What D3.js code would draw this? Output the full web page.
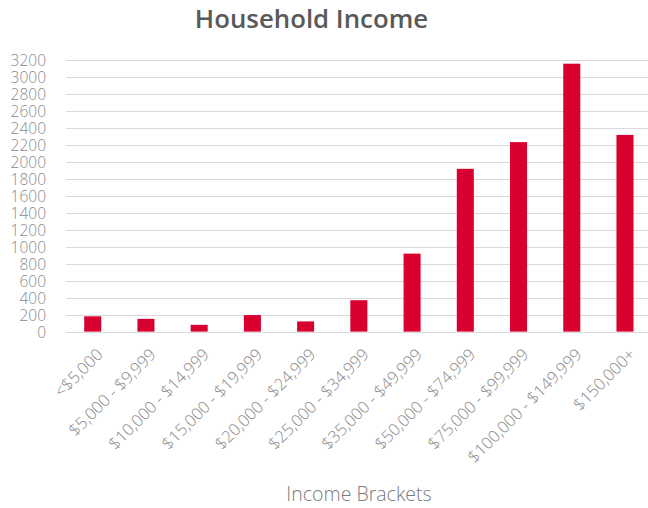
<!DOCTYPE html>
<html><head><meta charset="utf-8">
<script src="https://cdn.jsdelivr.net/npm/d3@7"></script>
<style>html,body{margin:0;padding:0;background:#fff}svg{display:block}</style>
</head><body>
<svg id="chart" width="648" height="508"></svg>
<script>
const categories = ["<$5,000","$5,000 - $9,999","$10,000 - $14,999","$15,000 - $19,999","$20,000 - $24,999","$25,000 - $34,999","$35,000 - $49,999","$50,000 - $74,999","$75,000 - $99,999","$100,000 - $149,999","$150,000+"];
const values = [180, 150, 80, 195, 120, 370, 920, 1920, 2235, 3160, 2320];
const yTicks = [0,200,400,600,800,1000,1200,1400,1600,1800,2000,2200,2400,2600,2800,3000,3200];
const title = "Household Income";
const xTitle = "Income Brackets";

const svg = d3.select("#chart");
const font = "'Open Sans', 'DejaVu Sans', sans-serif";
const x = d3.scaleBand().domain(categories).range([66.1, 651.6]).paddingInner(0.68).paddingOuter(0.34);
const y = d3.scaleLinear().domain([0, 3200]).range([331.6, 60.3]);

// gridlines
svg.append("g").selectAll("line").data(yTicks).join("line")
  .attr("x1", 66).attr("x2", 648)
  .attr("y1", d => Math.round(y(d)) + 0.5).attr("y2", d => Math.round(y(d)) + 0.5)
  .attr("stroke", "#d9d9d9").attr("stroke-width", 1);

// y tick labels
const yAxis = d3.axisLeft(y).tickValues(yTicks).tickFormat(d3.format("d")).tickSize(0).tickPadding(0);
const gy = svg.append("g").attr("transform", "translate(46,0)").call(yAxis);
gy.select(".domain").remove();
gy.selectAll("text").attr("font-family", font).attr("font-weight", 300)
  .attr("font-size", 15.5).attr("fill", "#8a8a8a").attr("dy", "0.35em");

// bars
svg.append("g").selectAll("rect").data(values).join("rect")
  .attr("x", (d, i) => x(categories[i]))
  .attr("width", x.bandwidth())
  .attr("y", d => y(d))
  .attr("height", d => y(0) - y(d))
  .attr("fill", "#d8002f");

// x labels
const xAxis = d3.axisBottom(x).tickSize(0).tickPadding(0);
const gx = svg.append("g").attr("transform", `translate(0,${y(0)})`).call(xAxis);
gx.select(".domain").remove();
gx.selectAll("text")
  .attr("font-family", font).attr("font-weight", 300)
  .attr("font-size", 16.5).attr("fill", "#8a8a8a")
  .attr("text-anchor", "end")
  .attr("transform", "translate(7,20) rotate(-45)")
  .attr("dy", "0.35em").attr("y", 0);

// titles
svg.append("text").attr("x", 311.5).attr("y", 28).attr("text-anchor", "middle")
  .attr("font-family", font).attr("font-weight", 600).attr("font-size", 25.8)
  .attr("fill", "#595959").text(title);
svg.append("text").attr("x", 359).attr("y", 501).attr("text-anchor", "middle")
  .attr("font-family", font).attr("font-weight", 300).attr("font-size", 19.5)
  .attr("fill", "#7a7a7a").text(xTitle);
</script>
</body></html>
